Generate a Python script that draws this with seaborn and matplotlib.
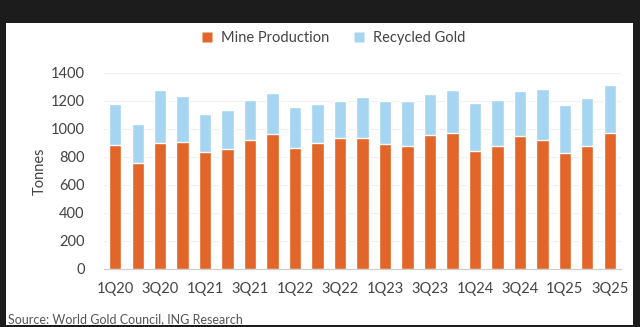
import matplotlib
matplotlib.use("Agg")
import matplotlib.pyplot as plt
import seaborn as sns
import numpy as np
import pandas as pd
from matplotlib.patches import Rectangle
from matplotlib.lines import Line2D

quarters = ["1Q20", "2Q20", "3Q20", "4Q20", "1Q21", "2Q21", "3Q21", "4Q21",
            "1Q22", "2Q22", "3Q22", "4Q22", "1Q23", "2Q23", "3Q23", "4Q23",
            "1Q24", "2Q24", "3Q24", "4Q24", "1Q25", "2Q25", "3Q25"]
mine = [886, 755, 902, 910, 836, 860, 921, 962, 864, 898, 938, 938,
        895, 881, 957, 974, 843, 876, 952, 924, 826, 876, 969]
total = [1181, 1038, 1276, 1236, 1105, 1136, 1207, 1255, 1155, 1179, 1198, 1226,
         1198, 1202, 1248, 1281, 1188, 1207, 1269, 1283, 1171, 1221, 1314]
recycled = [t - m for t, m in zip(total, mine)]
yticks = [0, 200, 400, 600, 800, 1000, 1200, 1400]

df = pd.DataFrame({"Quarter": quarters, "Mine Production": mine,
                   "Recycled Gold": recycled, "Total": total})

sns.set_theme(style="white")
plt.rcParams["font.family"] = ["Lato", "DejaVu Sans"]

ORANGE = "#E2662A"
BLUE = "#A6D5F2"
TXT = "#444444"

fig = plt.figure(figsize=(6.4, 3.27), dpi=100, facecolor="#1c1c1c")
fig.patches.append(Rectangle((6 / 640, 2 / 327), (633 - 6) / 640, (327 - 23 - 2) / 327,
                             transform=fig.transFigure, facecolor="white",
                             edgecolor="none", zorder=-10))
ax = fig.add_axes([104 / 640, 1 - 269 / 327, (621 - 104) / 640, (269 - 73) / 327])
ax.set_facecolor("white")

sns.barplot(data=df, x="Quarter", y="Total", color=BLUE, width=0.55,
            saturation=1, ax=ax, zorder=2)
sns.barplot(data=df, x="Quarter", y="Mine Production", color=ORANGE, width=0.55,
            saturation=1, ax=ax, zorder=3)

ax.set_ylim(0, 1400)
ax.set_xlim(-0.5, len(quarters) - 0.5)
ax.set_yticks(yticks)
ax.set_yticklabels([str(v) for v in yticks], fontsize=10.5, color=TXT)
ax.yaxis.grid(True, color="#f0f0f0", linewidth=0.8, zorder=0)
ax.set_axisbelow(True)

ax.set_xticks(range(0, len(quarters), 2))
ax.set_xticklabels(quarters[::2], fontsize=10.5, color=TXT)
ax.set_xticks(np.arange(-0.5, len(quarters), 1), minor=True)
ax.tick_params(axis="x", which="major", length=0, pad=9)
ax.tick_params(axis="x", which="minor", length=3, color="#bbbbbb", width=0.8,
               direction="out")
ax.tick_params(axis="y", length=0, pad=14)

for s in ["top", "right", "left"]:
    ax.spines[s].set_visible(False)
ax.spines["bottom"].set_color("#cccccc")
ax.spines["bottom"].set_linewidth(0.8)

ax.set_xlabel("")
ax.set_ylabel("Tonnes", fontsize=10.5, color=TXT, labelpad=3)

handles = [Line2D([0], [0], marker="s", linestyle="none", markersize=6.5,
                  markerfacecolor=ORANGE, markeredgecolor="none"),
           Line2D([0], [0], marker="s", linestyle="none", markersize=6.5,
                  markerfacecolor=BLUE, markeredgecolor="none")]
fig.legend(handles, ["Mine Production", "Recycled Gold"], loc="center",
           bbox_to_anchor=(329 / 640, 1 - 38 / 327), ncol=2, frameon=False,
           fontsize=10.5, handletextpad=0.0, columnspacing=1.0, labelcolor=TXT)

fig.text(8 / 640, 1 - 319 / 327, "Source: World Gold Council, ING Research",
         fontsize=9, color="#555555", ha="left", va="center")

fig.savefig("out.png", dpi=100, facecolor=fig.get_facecolor())
